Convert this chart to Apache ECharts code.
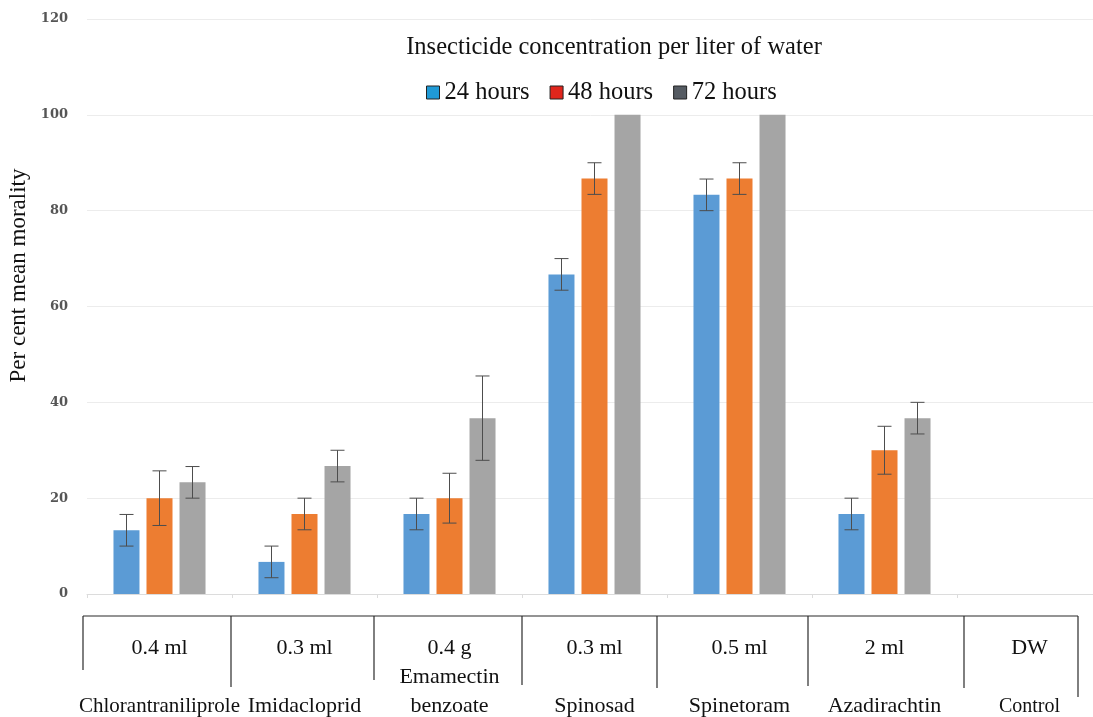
<!DOCTYPE html>
<html>
<head>
<meta charset="utf-8">
<script src="https://cdn.jsdelivr.net/npm/echarts@6/dist/echarts.min.js"></script>
<style>html,body{margin:0;padding:0;background:#fff}#c{width:1093px;height:717px}</style>
</head>
<body>
<div id="c"></div>
<script>
const doses = ['0.4 ml', '0.3 ml', '0.4 g', '0.3 ml', '0.5 ml', '2 ml', 'DW'];
const names = ['Chlorantraniliprole', 'Imidacloprid', 'Emamectin\nbenzoate', 'Spinosad', 'Spinetoram', 'Azadirachtin', 'Control'];
const seriesNames = ['24 hours', '48 hours', '72 hours'];
const h24 = [13.3, 6.7, 16.7, 66.7, 83.3, 16.7, 0];
const h48 = [20, 16.7, 20, 86.7, 86.7, 30, 0];
const h72 = [23.3, 26.7, 36.7, 100, 100, 36.7, 0];
const err24 = [3.3, 3.3, 3.3, 3.3, 3.3, 3.3, 0];
const err48 = [5.7, 3.3, 5.2, 3.3, 3.3, 5, 0];
const err72 = [3.3, 3.3, 8.8, 0, 0, 3.3, 0];
const yTicks = [0, 20, 40, 60, 80, 100, 120];

const barColors = ['#5b9bd5', '#ed7d31', '#a5a5a5'];
const legendColors = ['#1f9ad6', '#e0251c', '#555b62'];
const values = [h24, h48, h72];
const errs = [err24, err48, err72];

const chart = echarts.init(document.getElementById('c'));
const serif = '"Liberation Serif", "Times New Roman", serif';

function errSeries(idx) {
  return {
    type: 'custom',
    name: seriesNames[idx] + ' err',
    z: 5,
    silent: true,
    data: values[idx].map((v, i) => [i, v, errs[idx][i]]),
    renderItem: function (params, api) {
      const e = api.value(2);
      if (!e) return null;
      const cat = api.value(0), v = api.value(1);
      const band = api.size([1, 0])[0];
      const bw = band * 26 / 145;
      const gap = band * 7 / 145;
      const off = (idx - 1) * (bw + gap);
      const top = api.coord([cat, v + e]);
      const bot = api.coord([cat, v - e]);
      const x = top[0] + off;
      const cap = 7;
      const st = { stroke: '#4d4d4d', lineWidth: 1 };
      return {
        type: 'group',
        children: [
          { type: 'line', shape: { x1: x, y1: top[1], x2: x, y2: bot[1] }, style: st },
          { type: 'line', shape: { x1: x - cap, y1: top[1], x2: x + cap, y2: top[1] }, style: st },
          { type: 'line', shape: { x1: x - cap, y1: bot[1], x2: x + cap, y2: bot[1] }, style: st }
        ]
      };
    }
  };
}

const series = [];
for (let k = 0; k < 3; k++) {
  series.push({
    type: 'bar',
    name: seriesNames[k],
    data: values[k],
    barWidth: 26,
    barGap: '27%',
    barCategoryGap: '36%',
    itemStyle: { color: barColors[k] }
  });
}
for (let k = 0; k < 3; k++) series.push(errSeries(k));

// table lines (decoration)
const vLines = [[83, 670], [231, 687], [374, 680], [522, 685], [657, 688], [808, 686], [964, 688], [1078, 697]];
const lineStyle = { stroke: '#2a2a2a', lineWidth: 1.2 };
const graphics = [{ type: 'line', shape: { x1: 83, y1: 616, x2: 1078, y2: 616 }, style: lineStyle }];
vLines.forEach(p => graphics.push({ type: 'line', shape: { x1: p[0], y1: 616, x2: p[0], y2: p[1] }, style: lineStyle }));

chart.setOption({
  animation: false,
  backgroundColor: '#fff',
  title: {
    text: 'Insecticide concentration per liter of water',
    left: 609, top: 30, textAlign: 'center',
    textStyle: { fontFamily: serif, fontSize: 24.5, fontWeight: 'normal', color: '#111' }
  },
  legend: {
    data: seriesNames.map((n, i) => ({ name: n, itemStyle: { color: legendColors[i], borderColor: '#222', borderWidth: 1 } })),
    left: 421, top: 75,
    icon: 'rect', itemWidth: 13, itemHeight: 13, itemGap: 20,
    textStyle: { fontFamily: serif, fontSize: 24.5, color: '#111' }
  },
  grid: { left: 87, top: 19, width: 1015, height: 575, outerBoundsMode: 'none', containLabel: false },
  xAxis: {
    type: 'category',
    data: doses,
    axisLine: { lineStyle: { color: '#dcdcdc' } },
    axisTick: { show: true, length: 4, lineStyle: { color: '#dcdcdc' } },
    axisLabel: {
      margin: 40,
      interval: 0,
      fontFamily: serif,
      formatter: function (val, i) {
        const nm = names[i].split('\n');
        const st = i === 0 ? 'c' : (i === 6 ? 'k' : 'n');
        if (nm.length > 1) return '{d|' + val + '}\n{n|' + nm[0] + '}\n{n|' + nm[1] + '}';
        return '{d|' + val + '}\n{n| }\n{' + st + '|' + nm[0] + '}';
      },
      rich: {
        d: { fontFamily: serif, fontSize: 22, color: '#111', lineHeight: 29 },
        n: { fontFamily: serif, fontSize: 22, color: '#111', lineHeight: 29 },
        c: { fontFamily: serif, fontSize: 21, color: '#111', lineHeight: 29 },
        k: { fontFamily: serif, fontSize: 20, color: '#111', lineHeight: 29 }
      }
    }
  },
  yAxis: {
    type: 'value',
    min: 0, max: 120, interval: 20,
    name: 'Per cent mean morality',
    nameLocation: 'middle',
    nameGap: 55,
    nameTextStyle: { fontFamily: serif, fontSize: 23, color: '#111', padding: [0, 0, 0, 62] },
    axisLine: { show: false },
    axisTick: { show: false },
    axisLabel: {
      margin: 19,
      fontFamily: '"DejaVu Serif", serif', fontSize: 13, fontWeight: 'bold', color: '#555',
      formatter: v => yTicks.indexOf(v) >= 0 ? String(v) : ''
    },
    splitLine: { lineStyle: { color: '#ececec' } }
  },
  graphic: graphics,
  series: series
});
</script>
</body>
</html>
